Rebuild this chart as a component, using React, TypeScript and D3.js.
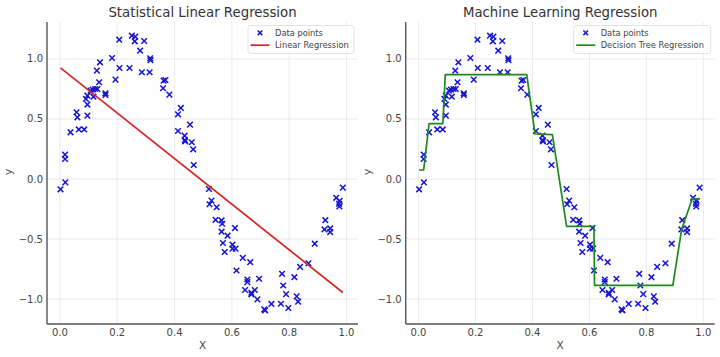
import React from "react";
import * as d3 from "d3";

// ---- data ----
const pointsX = [
  0.002, 0.019, 0.018, 0.018, 0.037, 0.058, 0.061, 0.066, 0.085, 0.096,
  0.096, 0.091, 0.096, 0.107, 0.114, 0.117, 0.123, 0.131, 0.137, 0.129,
  0.140, 0.159, 0.159, 0.182, 0.194, 0.207, 0.208, 0.243, 0.251, 0.263,
  0.261, 0.280, 0.286, 0.294, 0.313, 0.315, 0.316, 0.360, 0.362, 0.368,
  0.382, 0.412, 0.422, 0.412, 0.435, 0.436, 0.437, 0.454, 0.460, 0.465,
  0.467, 0.520, 0.522, 0.529, 0.547, 0.543, 0.564, 0.566, 0.564, 0.569,
  0.575, 0.585, 0.602, 0.602, 0.613, 0.611, 0.616, 0.638, 0.654, 0.654,
  0.646, 0.664, 0.668, 0.668, 0.680, 0.695, 0.689, 0.713, 0.716, 0.738,
  0.775, 0.779, 0.789, 0.771, 0.797, 0.818, 0.826, 0.831, 0.838, 0.867,
  0.889, 0.926, 0.923, 0.943, 0.943, 0.964, 0.976, 0.974, 0.975, 0.987,
];
const pointsY = [
  -0.086, -0.028, 0.203, 0.167, 0.389, 0.556, 0.514, 0.413, 0.413, 0.528,
  0.620, 0.667, 0.694, 0.736, 0.745, 0.686, 0.750, 0.750, 0.806, 0.903,
  0.972, 0.714, 0.700, 1.008, 0.828, 1.161, 0.925, 0.925, 1.194, 1.186,
  1.147, 1.069, 0.889, 1.150, 0.889, 1.006, 0.990, 0.756, 0.819, 0.825,
  0.703, 0.539, 0.592, 0.400, 0.361, 0.325, 0.314, 0.453, 0.306, 0.247,
  0.117, -0.083, -0.210, -0.180, -0.235, -0.340, -0.345, -0.373, -0.439, -0.533,
  -0.608, -0.472, -0.547, -0.580, -0.580, -0.409, -0.762, -0.657, -0.837, -0.859,
  -0.925, -0.693, -0.948, -0.961, -0.925, -0.831, -1.003, -1.086, -1.094, -1.041,
  -0.790, -0.887, -0.959, -1.039, -1.075, -0.818, -0.978, -1.022, -0.732, -0.702,
  -0.539, -0.343, -0.420, -0.412, -0.442, -0.157, -0.182, -0.207, -0.229, -0.072,
];

// linear regression: y = intercept + slope * x
const linIntercept = 0.93;
const linSlope = -1.9;

// decision tree prediction line (vertices)
const treeX = [0.002, 0.018, 0.037, 0.0855, 0.094, 0.38, 0.409, 0.47, 0.52, 0.616, 0.618, 0.893, 0.924, 0.961, 0.988];
const treeY = [0.075, 0.075, 0.462, 0.462, 0.869, 0.869, 0.375, 0.37, -0.395, -0.395, -0.887, -0.887, -0.418, -0.166, -0.166];

const xTicks = [0, 0.2, 0.4, 0.6, 0.8, 1.0];
const yTicks = [-1, -0.5, 0, 0.5, 1];

const titles = ["Statistical Linear Regression", "Machine Learning Regression"];
const legendLabels = [
  ["Data points", "Linear Regression"],
  ["Data points", "Decision Tree Regression"],
];

const FONT = "DejaVu Sans, sans-serif";
const TOP = 22;
const BOTTOM = 324;

function Panel({ idx, x0, x1, legendW, lineColor, lineData }: any) {
  const x = d3.scaleLinear().domain([-0.045, 1.04]).range([x0, x1]);
  const y = d3.scaleLinear().domain([-1.208, 1.308]).range([BOTTOM, TOP]);
  const fmt = d3.format(".1f");
  const line = d3
    .line<[number, number]>()
    .x((d) => x(d[0]))
    .y((d) => y(d[1]));
  const cx = (x0 + x1) / 2;
  const lgRight = x1 - 4;
  const lgLeft = lgRight - legendW;
  const lgTop = 25.5;
  const m = 2.8;
  return (
    <g>
      {/* grid */}
      {xTicks.map((t) => (
        <line key={"gx" + t} x1={x(t)} x2={x(t)} y1={TOP} y2={BOTTOM} stroke="#e6e6e6" strokeWidth={0.8} />
      ))}
      {yTicks.map((t) => (
        <line key={"gy" + t} x1={x0} x2={x1} y1={y(t)} y2={y(t)} stroke="#e6e6e6" strokeWidth={0.8} />
      ))}
      {/* spines */}
      <line x1={x0} x2={x0} y1={TOP} y2={BOTTOM} stroke="#555" strokeWidth={1.4} />
      <line x1={x0} x2={x1} y1={BOTTOM} y2={BOTTOM} stroke="#555" strokeWidth={1.4} />
      {/* tick labels */}
      {xTicks.map((t) => (
        <text key={"tx" + t} x={x(t)} y={336} textAnchor="middle" fontSize={10} fill="#444" fontFamily={FONT}>
          {fmt(t)}
        </text>
      ))}
      {yTicks.map((t) => (
        <text key={"ty" + t} x={x0 - 4} y={y(t)} dy="0.35em" textAnchor="end" fontSize={10} fill="#444" fontFamily={FONT}>
          {fmt(t)}
        </text>
      ))}
      {/* axis labels */}
      <text x={cx} y={349} textAnchor="middle" fontSize={10.5} fill="#444" fontFamily={FONT}>X</text>
      <text transform={`translate(${x0 - 35},172) rotate(-90)`} textAnchor="middle" fontSize={10.5} fill="#444" fontFamily={FONT}>y</text>
      {/* title */}
      <text x={cx} y={17} textAnchor="middle" fontSize={13.3} fill="#333" fontFamily={FONT}>{titles[idx]}</text>
      {/* points */}
      {pointsX.map((px, i) => {
        const X = x(px);
        const Y = y(pointsY[i]);
        return (
          <path key={"p" + i} d={`M${X - m},${Y - m}L${X + m},${Y + m}M${X - m},${Y + m}L${X + m},${Y - m}`} stroke="#1414d2" strokeWidth={1.5} fill="none" />
        );
      })}
      {/* regression line */}
      <path d={line(lineData) || ""} stroke={lineColor} strokeWidth={1.7} fill="none" strokeLinejoin="round" />
      {/* legend */}
      <rect x={lgLeft} y={lgTop} width={legendW} height={28} rx={2.5} fill="#fff" fillOpacity={0.85} stroke="#dcdcdc" strokeWidth={0.8} />
      {(() => {
        const mx = lgLeft + 12;
        const my = lgTop + 7.3;
        const mm = 2.3;
        return (
          <path d={`M${mx - mm},${my - mm}L${mx + mm},${my + mm}M${mx - mm},${my + mm}L${mx + mm},${my - mm}`} stroke="#1414d2" strokeWidth={1.5} fill="none" />
        );
      })()}
      <line x1={lgLeft + 2.5} x2={lgLeft + 21.5} y1={lgTop + 19.7} y2={lgTop + 19.7} stroke={lineColor} strokeWidth={1.7} />
      <text x={lgLeft + 27} y={lgTop + 7.3} dy="0.35em" fontSize={8.3} fill="#444" fontFamily={FONT}>{legendLabels[idx][0]}</text>
      <text x={lgLeft + 27} y={lgTop + 19.7} dy="0.35em" fontSize={8.3} fill="#444" fontFamily={FONT}>{legendLabels[idx][1]}</text>
    </g>
  );
}

export default function App() {
  const xMin = d3.min(pointsX) as number;
  const xMax = d3.max(pointsX) as number;
  const linData: [number, number][] = [
    [xMin, linIntercept + linSlope * xMin],
    [xMax, linIntercept + linSlope * xMax],
  ];
  const treeData: [number, number][] = treeX.map((v, i) => [v, treeY[i]]);
  return (
    <svg width={720} height={357} style={{ position: "absolute", left: 0, top: 0, background: "#fff" }}>
      <rect width={720} height={357} fill="#fff" />
      <Panel idx={0} x0={47} x1={358} legendW={106} lineColor="#d42626" lineData={linData} />
      <Panel idx={1} x0={405.7} x1={714.7} legendW={137} lineColor="#1c8a1c" lineData={treeData} />
    </svg>
  );
}
